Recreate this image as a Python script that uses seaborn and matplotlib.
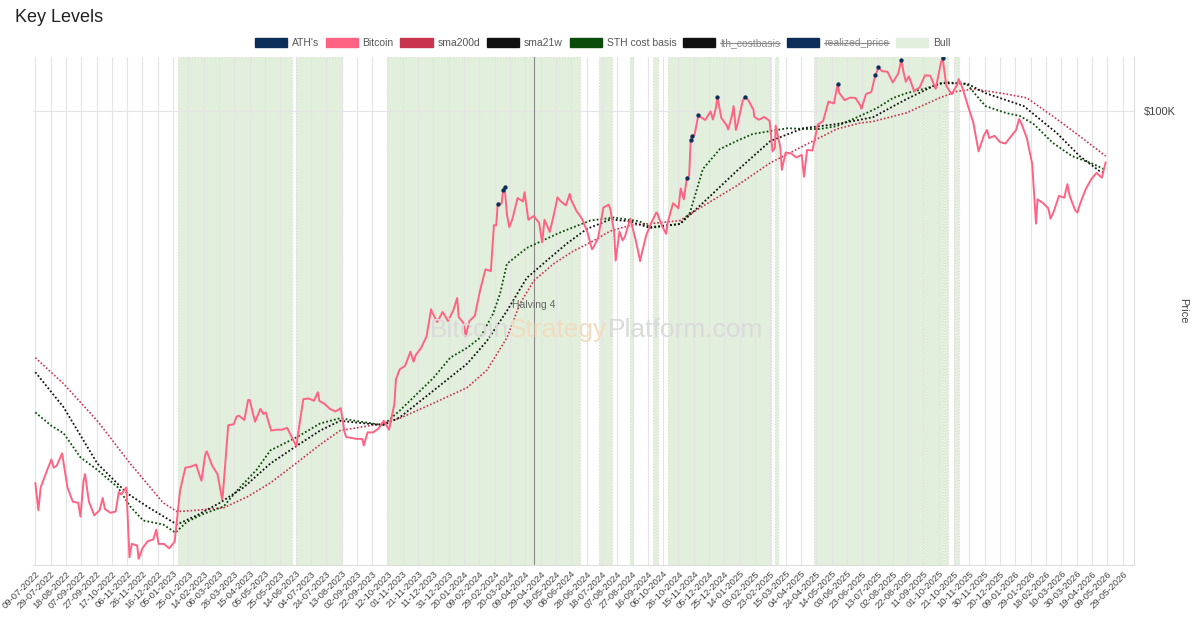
import pandas as pd
import numpy as np
import seaborn as sns
import matplotlib.pyplot as plt
from matplotlib.patches import Patch
from matplotlib.lines import Line2D
from matplotlib.ticker import NullLocator

# bitcoin weekly closes (k$), one value every saturday from 09-07-2022
btc_start = '2022-07-09'
btc_weekly = [
    21.6, 21.2, 22.5, 23.8, 23.2, 24.4, 21.2, 20.0, 19.9, 21.8, 20.0, 18.9, 19.3,
    19.4, 19.1, 19.2, 20.6, 21.2, 16.8, 16.7, 16.5, 17.0, 17.1, 16.8, 16.8, 16.5,
    # 2023
    16.95, 20.9, 23.0, 23.1, 23.3, 21.8, 24.6, 23.2, 22.4, 20.6, 27.4, 27.5,
    28.5, 28.0, 30.4, 27.8, 29.3, 28.9, 26.8, 26.9, 26.9, 27.1, 25.9, 26.3, 30.5,
    30.6, 30.3, 30.3, 29.9, 29.3, 29.0, 29.4, 26.1, 26.0, 25.9, 25.9, 26.6, 26.6,
    27.0, 27.9, 26.9, 29.9, 34.5, 35.0, 37.1, 36.6, 37.7, 39.5, 43.7, 41.9, 43.7, 42.1,
    # 2024
    44.0, 42.8, 41.6, 42.1, 43.0, 47.8, 52.1, 51.7, 62.4, 68.3, 65.3, 64.0, 69.9,
    68.9, 63.9, 64.9, 63.1, 63.9, 60.8, 66.9, 69.0, 67.8, 69.3, 66.2, 64.2, 60.8,
    56.7, 59.2, 67.2, 68.0, 60.7, 60.9, 59.5, 64.2, 58.9, 54.8, 60.0, 63.3, 65.8,
    62.1, 63.2, 68.4, 67.0, 69.5, 76.6, 90.6, 97.8, 96.4, 99.9, 101.4, 97.2, 94.3,
    # 2025
    98.2, 94.5, 104.4, 104.7, 100.6, 96.5, 97.6, 96.1, 86.0, 86.2, 84.3, 84.0, 82.6,
    83.5, 85.2, 85.0, 94.6, 96.0, 104.0, 103.2, 107.8, 104.6, 105.7, 105.6, 102.2, 107.3,
    108.2, 117.5, 117.9, 117.6, 112.5, 116.7, 117.4, 115.4, 108.4, 110.2, 115.9, 115.7,
    109.6, 122.3, 110.8, 107.2, 111.5, 110.0, 102.3, 95.5, 84.7, 90.5, 89.5, 90.3, 88.0, 87.5,
    # 2026
    90.0, 92.5, 95.0, 89.5, 80.5, 69.5, 68.5, 67.0, 66.0, 70.5, 70.0, 70.5, 66.5,
    68.5, 72.5, 75.5, 77.5, 76.0,
]

# daily spikes / dips between the weekly points
extra_dates = [
    '2022-07-13', '2022-08-02', '2022-09-06', '2022-09-12', '2022-10-05', '2022-10-26',
    '2022-11-09', '2022-11-21', '2022-12-14', '2023-01-20', '2023-02-16', '2023-03-10',
    '2023-03-29', '2023-04-13', '2023-05-03', '2023-06-15', '2023-07-13', '2023-08-17',
    '2023-09-11', '2023-10-23', '2023-11-15', '2023-12-08', '2024-01-11', '2024-01-22',
    '2024-02-28', '2024-03-19', '2024-04-08', '2024-05-01', '2024-05-21', '2024-06-06',
    '2024-07-05', '2024-07-29', '2024-08-05', '2024-08-14', '2024-09-06', '2024-09-27',
    '2024-10-10', '2024-10-29', '2024-12-10', '2024-12-30', '2025-01-06', '2025-01-09',
    '2025-02-02', '2025-02-26', '2025-03-02', '2025-03-10', '2025-04-08', '2025-06-22',
    '2025-08-19', '2025-09-01', '2025-10-10', '2025-10-27', '2025-12-03', '2026-01-14',
    '2026-02-05', '2026-02-24', '2026-03-18', '2026-03-31', '2026-05-07',
]
extra_price = [
    19.3, 23.0, 18.8, 22.4, 20.3, 20.8,
    15.9, 15.8, 17.8, 22.7, 24.3, 20.2,
    28.4, 30.4, 28.7, 25.1, 31.4, 26.6,
    25.2, 33.1, 35.6, 44.2, 46.3, 39.5,
    62.5, 62.0, 71.6, 58.2, 70.1, 71.1,
    56.6, 66.8, 54.0, 58.7, 53.9, 65.8,
    60.3, 72.7, 96.6, 92.7, 102.1, 92.5,
    97.7, 84.7, 94.2, 78.5, 76.3, 101.0,
    112.9, 109.2, 113.2, 114.1, 92.5, 96.8,
    62.9, 64.2, 74.0, 65.8, 81.0,
]

# all time highs
ath_dates = [
    '2024-03-04', '2024-03-11', '2024-03-13', '2024-11-06', '2024-11-11', '2024-11-13',
    '2024-11-21', '2024-12-16', '2025-01-21', '2025-05-22', '2025-07-10', '2025-07-14',
    '2025-08-13', '2025-10-06',
]
ath_price = [68.3, 72.1, 73.1, 75.9, 88.7, 90.4, 98.4, 106.1, 106.2, 111.7, 116.0, 119.8, 123.3, 124.7]

sma200_dates = [
    '2022-07-09', '2022-08-15', '2022-09-28', '2022-11-10', '2022-12-23', '2023-01-10',
    '2023-02-05', '2023-03-12', '2023-04-12', '2023-05-12', '2023-06-16', '2023-07-16',
    '2023-08-11', '2023-10-06', '2023-10-28', '2023-12-11', '2024-01-24', '2024-02-19',
    '2024-03-16', '2024-04-02', '2024-04-20', '2024-05-16', '2024-06-11', '2024-07-03',
    '2024-07-29', '2024-08-25', '2024-09-25', '2024-10-28', '2024-11-27', '2025-01-10',
    '2025-02-23', '2025-04-07', '2025-05-21', '2025-06-20', '2025-07-07', '2025-08-20',
    '2025-10-02', '2025-10-25', '2025-11-15', '2025-12-05', '2025-12-28', '2026-01-24',
    '2026-03-04', '2026-04-03', '2026-05-07',
]
sma200_vals = [
    36.2, 32.5, 27.9, 23.4, 19.9, 19.2,
    19.3, 19.5, 20.4, 21.6, 23.5, 25.3,
    26.8, 27.6, 28.2, 30.0, 32.0, 34.4,
    39.3, 45.2, 49.7, 53.3, 56.2, 58.2,
    61.0, 62.5, 63.0, 63.7, 67.6, 73.5,
    80.8, 86.6, 92.9, 95.2, 95.8, 99.3,
    105.6, 108.5, 109.5, 108.5, 107.3, 105.6,
    96.8, 90.2, 83.1,
]

sma21w_dates = [
    '2022-07-09', '2022-08-15', '2022-09-28', '2022-11-06', '2022-12-02', '2023-01-10',
    '2023-02-05', '2023-03-07', '2023-04-07', '2023-05-12', '2023-06-16', '2023-07-16',
    '2023-08-11', '2023-10-06', '2023-10-28', '2023-12-11', '2024-01-24', '2024-02-19',
    '2024-03-16', '2024-04-11', '2024-05-07', '2024-06-02', '2024-06-28', '2024-07-29',
    '2024-08-23', '2024-09-19', '2024-10-28', '2024-11-27', '2025-01-10', '2025-02-23',
    '2025-04-07', '2025-05-21', '2025-06-20', '2025-07-07', '2025-08-20', '2025-10-02',
    '2025-11-07', '2025-12-01', '2026-01-20', '2026-03-04', '2026-04-03', '2026-04-29',
    '2026-05-07',
]
sma21w_vals = [
    34.1, 29.5, 23.4, 20.7, 19.6, 18.2,
    18.9, 19.9, 21.2, 23.4, 25.2, 26.8,
    27.9, 27.4, 28.3, 31.6, 35.3, 38.8,
    43.9, 50.3, 54.0, 57.9, 61.5, 64.0,
    63.5, 61.8, 62.8, 68.5, 78.1, 88.4,
    93.2, 94.8, 96.5, 97.5, 105.1, 112.2,
    112.0, 107.7, 102.1, 91.4, 83.1, 78.1,
    77.5,
]

sth_dates = [
    '2022-07-09', '2022-07-29', '2022-08-15', '2022-09-06', '2022-09-28', '2022-10-25',
    '2022-11-10', '2022-11-27', '2022-12-23', '2023-01-08', '2023-01-23', '2023-02-13',
    '2023-03-12', '2023-03-29', '2023-04-24', '2023-05-12', '2023-06-16', '2023-07-16',
    '2023-08-11', '2023-10-06', '2023-10-28', '2023-12-11', '2024-01-02', '2024-01-24',
    '2024-02-10', '2024-02-27', '2024-03-07', '2024-03-16', '2024-04-11', '2024-05-24',
    '2024-07-03', '2024-08-03', '2024-09-05', '2024-09-19', '2024-10-28', '2024-11-10',
    '2024-11-27', '2024-12-19', '2025-01-10', '2025-01-31', '2025-02-23', '2025-03-18',
    '2025-04-07', '2025-04-29', '2025-05-21', '2025-06-20', '2025-07-12', '2025-08-02',
    '2025-08-20', '2025-09-15', '2025-10-11', '2025-11-07', '2025-11-20', '2025-12-01',
    '2025-12-28', '2026-01-15', '2026-02-02', '2026-02-27', '2026-03-24', '2026-04-21',
    '2026-05-04',
]
sth_vals = [
    28.9, 27.4, 26.5, 24.0, 22.8, 21.2,
    19.6, 18.5, 18.2, 17.6, 18.4, 19.0,
    19.6, 20.9, 22.8, 24.7, 26.1, 27.6,
    28.2, 27.4, 29.1, 33.3, 36.2, 37.7,
    39.3, 43.4, 47.1, 53.3, 56.9, 60.6,
    63.7, 64.5, 63.5, 62.0, 62.8, 65.8,
    78.8, 85.5, 88.4, 91.0, 92.1, 93.2,
    92.9, 92.9, 94.0, 98.0, 101.2, 105.5,
    107.7, 109.9, 112.7, 111.7, 106.3, 102.1,
    99.2, 98.0, 94.8, 87.7, 83.1, 80.4,
    78.8,
]

bull_start = ['2023-01-11', '2023-06-16', '2023-10-12', '2024-07-14', '2024-08-24', '2024-09-23',
              '2024-10-12', '2025-03-01', '2025-04-21', '2025-09-16', '2025-10-08', '2025-10-22']
bull_end = ['2023-06-09', '2023-08-13', '2024-06-20', '2024-07-31', '2024-08-28', '2024-09-29',
            '2025-02-24', '2025-03-05', '2025-09-14', '2025-10-06', '2025-10-13', '2025-10-27']

halving_date = '2024-04-20'

# build frames
weekly_idx = pd.date_range(btc_start, periods=len(btc_weekly), freq='7D')
btc = pd.concat([
    pd.DataFrame({'date': weekly_idx, 'price': btc_weekly}),
    pd.DataFrame({'date': pd.to_datetime(extra_dates), 'price': extra_price}),
    pd.DataFrame({'date': pd.to_datetime(ath_dates), 'price': ath_price}),
]).sort_values('date').reset_index(drop=True)
btc['price'] = btc['price'] * 1000
ath = pd.DataFrame({'date': pd.to_datetime(ath_dates), 'price': np.array(ath_price) * 1000})
sma200 = pd.DataFrame({'date': pd.to_datetime(sma200_dates), 'v': np.array(sma200_vals) * 1000})
sma21 = pd.DataFrame({'date': pd.to_datetime(sma21w_dates), 'v': np.array(sma21w_vals) * 1000})
sth = pd.DataFrame({'date': pd.to_datetime(sth_dates), 'v': np.array(sth_vals) * 1000})

sns.set_theme(style='white')
plt.rcParams['font.family'] = ['Liberation Sans', 'DejaVu Sans']

c_btc = '#ff6384'
c_200 = '#c8334e'
c_21w = '#111111'
c_sth = '#0a4d0a'
c_ath = '#0b2e59'
c_bull = '#e2efdc'

fig = plt.figure(figsize=(12, 6.26), dpi=100)
ax = fig.add_axes([0.0275, 0.0974, 0.9175, 0.8116])

for s, e in zip(bull_start, bull_end):
    ax.axvspan(pd.Timestamp(s), pd.Timestamp(e), facecolor=c_bull, edgecolor='#cfe2c5',
               lw=0.8, ls=':', zorder=0)

ax.axvline(pd.Timestamp(halving_date), color='#8a8a8a', lw=0.8, zorder=1)

dots = (0, (1, 1.2))
sns.lineplot(data=sma200, x='date', y='v', color=c_200, linestyle=dots, lw=1.2, ax=ax, zorder=3)
sns.lineplot(data=sth, x='date', y='v', color=c_sth, linestyle=dots, lw=1.3, ax=ax, zorder=3)
sns.lineplot(data=sma21, x='date', y='v', color=c_21w, linestyle=dots, lw=1.3, ax=ax, zorder=3)
sns.lineplot(data=btc, x='date', y='price', color=c_btc, lw=1.4, estimator=None, ax=ax, zorder=4)
sns.scatterplot(data=ath, x='date', y='price', color=c_ath, s=8, edgecolor=c_ath, ax=ax, zorder=5)

ax.set_yscale('log')
ax.set_ylim(15400, 125000)
ax.set_xlim(pd.Timestamp('2022-07-06'), pd.Timestamp('2026-06-13'))

ticks = pd.date_range('2022-07-09', '2026-05-29', freq='20D')
ax.set_xticks(ticks)
ax.set_xticklabels([t.strftime('%d-%m-%Y') for t in ticks], rotation=45, ha='right',
                   rotation_mode='anchor', fontsize=6.8, color='#444444')
ax.yaxis.tick_right()
ax.set_yticks([100000])
ax.set_yticklabels(['$100K'])
ax.yaxis.set_minor_locator(NullLocator())
ax.tick_params(axis='y', length=0, pad=7, labelsize=8, colors='#444444')
ax.tick_params(axis='x', length=0, pad=3)
ax.grid(True, axis='both', color='#e4e4e4', lw=0.8)
ax.set_axisbelow(True)
ax.set_xlabel('')
ax.set_ylabel('')
ax.text(1.0445, 0.5, 'Price', rotation=270, transform=ax.transAxes, va='center', ha='center',
        fontsize=8, color='#444444')
for s in ['left', 'top']:
    ax.spines[s].set_visible(False)
for s in ['bottom', 'right']:
    ax.spines[s].set_color('#dddddd')
    ax.spines[s].set_linewidth(0.8)

# halving label
ax.text(pd.Timestamp(halving_date), 45000, 'Halving 4', ha='center', va='center',
        fontsize=7.5, color='#666666', zorder=6)

# watermark
wm = ax.text(0.3606, 0.4626, 'Bitcoin', transform=ax.transAxes, fontsize=19, color='#dadada',
             va='center', ha='left', zorder=6)
wm2 = ax.annotate('Strategy', xy=(1, 0.5), xycoords=wm, fontsize=19, color='#f1dcc0',
                  va='center', ha='left', zorder=6)
ax.annotate('Platform.com', xy=(1, 0.5), xycoords=wm2, fontsize=19, color='#dadada',
            va='center', ha='left', zorder=6)

fig.text(15 / 1200, 1 - 18 / 626, 'Key Levels', fontsize=13, va='center', ha='left', color='#222222')

labels = ["ATH's", 'Bitcoin', 'sma200d', 'sma21w', 'STH cost basis', 'lth_costbasis',
          'realized_price', 'Bull']
colors = [c_ath, c_btc, c_200, c_21w, c_sth, c_21w, c_ath, c_bull]
handles = [Patch(facecolor=c, edgecolor=c) for c in colors]
leg = fig.legend(handles, labels, loc='center', bbox_to_anchor=(0.502, 1 - 43 / 626), ncol=8,
                 frameon=False, fontsize=7.5, handlelength=3.1, handleheight=1.0,
                 columnspacing=0.65, handletextpad=0.45)
hidden = ['lth_costbasis', 'realized_price']
for t in leg.get_texts():
    t.set_color('#555555')
    if t.get_text() in hidden:
        t.set_color('#888888')

fig.canvas.draw()
inv = fig.transFigure.inverted()
for t in leg.get_texts():
    if t.get_text() in hidden:
        bb = t.get_window_extent()
        (x0, y0), (x1, y1) = inv.transform([(bb.x0, bb.y0), (bb.x1, bb.y1)])
        ym = (y0 + y1) / 2
        fig.add_artist(Line2D([x0, x1], [ym, ym], transform=fig.transFigure,
                              color='#888888', lw=0.8))

fig.savefig('out.png', dpi=100)
